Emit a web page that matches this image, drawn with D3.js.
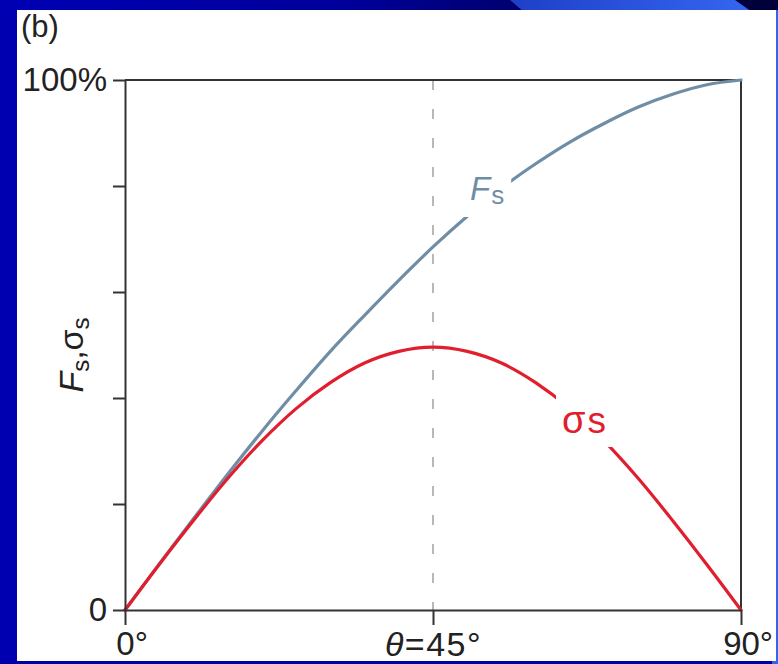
<!DOCTYPE html>
<html>
<head>
<meta charset="utf-8">
<script src="https://cdn.jsdelivr.net/npm/d3@7/dist/d3.min.js"></script>
<style>
  html, body { margin: 0; padding: 0; background: #0000b0; }
  svg { display: block; }
  text { font-family: "Liberation Sans", Arial, Helvetica, sans-serif; }
</style>
</head>
<body>
<svg id="chart" width="778" height="664"></svg>
<script>
// Inclination angle θ in degrees
const thetaDeg = [0, 5, 10, 15, 20, 25, 30, 35, 40, 45, 50, 55, 60, 65, 70, 75, 80, 85, 90];
// Share of force carried, F_s (fraction of 100%)
const forceShare = [0, 0.087, 0.172, 0.256, 0.337, 0.414, 0.488, 0.556, 0.622, 0.685,
                    0.743, 0.796, 0.842, 0.883, 0.918, 0.949, 0.973, 0.991, 1.0];
// Shear stress share, σ_s (fraction of 100%)
const stressShare = [0, 0.086, 0.169, 0.248, 0.319, 0.380, 0.429, 0.466, 0.488, 0.496,
                     0.488, 0.466, 0.429, 0.380, 0.319, 0.248, 0.169, 0.086, 0];
// Axis ticks
const yTicks = [0, 0.2, 0.4, 0.6, 0.8, 1.0];
const yTickLabels = { 0: "0", 1: "100%" };
const xTicks = [0, 45, 90];

const svg = d3.select("#chart");
const W = 778, H = 664;

// ---- slide background ----
const defs = svg.append("defs");
const topGrad = defs.append("linearGradient").attr("id", "topGrad")
  .attr("x1", "0%").attr("x2", "100%").attr("y1", "0%").attr("y2", "0%");
topGrad.append("stop").attr("offset", "0%").attr("stop-color", "#0000b4");
topGrad.append("stop").attr("offset", "45%").attr("stop-color", "#00009a");
topGrad.append("stop").attr("offset", "66%").attr("stop-color", "#000070");
topGrad.append("stop").attr("offset", "100%").attr("stop-color", "#000038");
const tabGrad = defs.append("linearGradient").attr("id", "tabGrad")
  .attr("x1", "0%").attr("x2", "100%").attr("y1", "0%").attr("y2", "0%");
tabGrad.append("stop").attr("offset", "0%").attr("stop-color", "#1f3fc8");
tabGrad.append("stop").attr("offset", "100%").attr("stop-color", "#3566f0");

svg.append("rect").attr("x", 0).attr("y", 0).attr("width", W).attr("height", H).attr("fill", "#0000b0");
svg.append("rect").attr("x", 0).attr("y", 0).attr("width", W).attr("height", 12).attr("fill", "url(#topGrad)");
svg.append("path").attr("d", "M510,0 L735,0 L752,12 L524,12 Z").attr("fill", "url(#tabGrad)");
svg.append("rect").attr("x", 772).attr("y", 10).attr("width", 6).attr("height", H - 10).attr("fill", "#3262f0");
svg.append("rect").attr("x", 0).attr("y", 661).attr("width", 772).attr("height", 3).attr("fill", "#0000a8");

// white panel
svg.append("rect").attr("x", 17).attr("y", 10).attr("width", 759).attr("height", 651).attr("fill", "#ffffff");

// ---- scales ----
const x = d3.scaleLinear().domain([0, 90]).range([125, 741]);
const y = d3.scaleLinear().domain([0, 1]).range([610, 80]);

const frameColor = "#333333";

// dashed guide at θ = 45°
svg.append("line")
  .attr("x1", x(45)).attr("x2", x(45))
  .attr("y1", y(1)).attr("y2", y(0))
  .attr("stroke", "#b8b8b8").attr("stroke-width", 2)
  .attr("stroke-dasharray", "10,19");

// frame (top and right edges)
svg.append("path")
  .attr("d", `M${x(0)},${y(1)} H${x(90)} V${y(0)}`)
  .attr("fill", "none").attr("stroke", frameColor).attr("stroke-width", 2);

// ---- curves ----
const lineGen = d3.line()
  .x((d, i) => x(thetaDeg[i]))
  .y(d => y(d))
  .curve(d3.curveMonotoneX);

svg.append("path").datum(forceShare)
  .attr("d", lineGen)
  .attr("fill", "none").attr("stroke", "#6f8ea6").attr("stroke-width", 3.2)
  .attr("stroke-linecap", "round");

svg.append("path").datum(stressShare)
  .attr("d", lineGen)
  .attr("fill", "none").attr("stroke", "#e01e2e").attr("stroke-width", 3.2)
  .attr("stroke-linecap", "round");

// ---- curve labels (with white knock-out behind) ----
function knockoutLabel(g, pad) {
  const bb = g.node().getBBox();
  g.insert("rect", ":first-child")
    .attr("x", bb.x - pad).attr("y", bb.y - pad)
    .attr("width", bb.width + 2 * pad).attr("height", bb.height + 2 * pad)
    .attr("fill", "#ffffff");
}

const fLabel = svg.append("g");
const fText = fLabel.append("text").attr("x", 470).attr("y", 200)
  .attr("fill", "#6f8ea6").attr("font-size", 33);
fText.append("tspan").attr("font-style", "italic").text("F");
fText.append("tspan").attr("font-size", 26).attr("dy", 4).attr("dx", 1).text("s");
knockoutLabel(fLabel, 7);

const sLabel = svg.append("g");
const sText = sLabel.append("text").attr("x", 562).attr("y", 433)
  .attr("fill", "#e01e2e").attr("font-size", 38);
sText.append("tspan").text("σ");
sText.append("tspan").attr("font-size", 37).attr("dx", 2).text("s");
knockoutLabel(sLabel, 6);

// ---- axes ----
const yAxis = d3.axisLeft(y)
  .tickValues(yTicks)
  .tickSize(12)
  .tickSizeOuter(0)
  .tickPadding(6)
  .tickFormat(d => yTickLabels[d] !== undefined ? yTickLabels[d] : "");

const yAxisG = svg.append("g").attr("transform", `translate(${x(0)},0)`).call(yAxis);
yAxisG.select(".domain").attr("stroke", frameColor).attr("stroke-width", 2);
yAxisG.selectAll(".tick line").attr("stroke", frameColor).attr("stroke-width", 2);
yAxisG.selectAll(".tick text")
  .attr("font-size", 33).attr("fill", "#222").attr("font-family", null);

const xAxis = d3.axisBottom(x)
  .tickValues(xTicks)
  .tickSize(15)
  .tickSizeOuter(0)
  .tickPadding(7)
  .tickFormat(() => "");

const xAxisG = svg.append("g").attr("transform", `translate(0,${y(0)})`).call(xAxis);
xAxisG.select(".domain").attr("stroke", frameColor).attr("stroke-width", 2);
xAxisG.selectAll(".tick line").attr("stroke", frameColor).attr("stroke-width", 2);
xAxisG.selectAll(".tick text").each(function (d) {
  const t = d3.select(this)
    .attr("font-size", 33).attr("fill", "#222").attr("font-family", null);
  if (d === 45) {
    t.attr("font-size", 34).attr("letter-spacing", 1.5);
    t.append("tspan").attr("font-style", "italic").text("θ");
    t.append("tspan").text("=45°");
  } else {
    t.attr("dx", "0.2em").text(d + "°");
  }
});

// ---- axis title ----
const yTitle = svg.append("text")
  .attr("transform", "translate(83,355) rotate(-90)")
  .attr("text-anchor", "middle")
  .attr("fill", "#222").attr("font-size", 34);
yTitle.append("tspan").attr("font-style", "italic").text("F");
yTitle.append("tspan").attr("font-size", 24).attr("dy", 6).text("s");
yTitle.append("tspan").attr("dy", -6).text(",");
yTitle.append("tspan").text("σ");
yTitle.append("tspan").attr("font-size", 24).attr("dy", 6).text("s");

// ---- panel tag ----
svg.append("text").attr("x", 21).attr("y", 37)
  .attr("font-size", 31).attr("fill", "#222").text("(b)");
</script>
</body>
</html>
